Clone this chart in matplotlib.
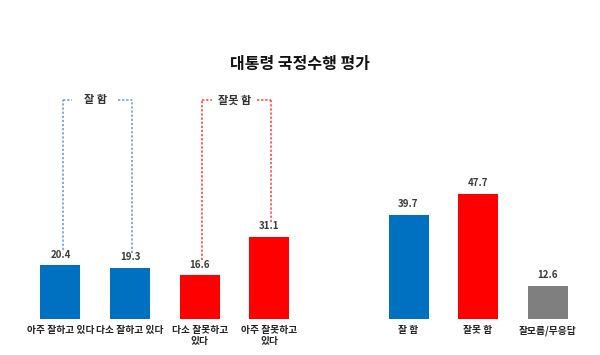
import matplotlib.pyplot as plt
import numpy as np

plt.rcParams['font.family'] = ['Noto Sans CJK KR', 'DejaVu Sans']

left_labels = ['아주 잘하고 있다', '다소 잘하고 있다', '다소 잘못하고\n있다', '아주 잘못하고\n있다']
left_values = [20.4, 19.3, 16.6, 31.1]
left_colors = ['#0070C0', '#0070C0', '#FF0000', '#FF0000']

right_labels = ['잘 함', '잘못 함', '잘모름/무응답']
right_values = [39.7, 47.7, 12.6]
right_colors = ['#0070C0', '#FF0000', '#7F7F7F']

left_pos = np.arange(4)
right_pos = np.arange(5, 8)

fig = plt.figure(figsize=(6, 3.55), dpi=100)
ax = fig.add_axes([0, 0, 1, 1])
ax.set_xlim(-0.869, 7.751)
ax.set_ylim(-13.7, 121.3)
ax.axis('off')

w = 0.575
ax.bar(left_pos, left_values, width=w, color=left_colors)
ax.bar(right_pos, right_values, width=w, color=right_colors)

pos = list(left_pos) + list(right_pos)
vals = left_values + right_values
labs = left_labels + right_labels
for x, v, l in zip(pos, vals, labs):
    ax.text(x, v + 2.2, f'{v:.1f}', ha='center', va='bottom', fontsize=7, fontweight='bold', color='#3a3a3a')
    ax.text(x, -2.4, l, ha='center', va='top', fontsize=7, fontweight='bold', color='#222222', linespacing=1.1)

# brackets
top = 83.3
gap = 0.33
def bracket(i, j, text, color):
    x0, x1 = pos[i] + 0.03, pos[j] + 0.03
    xm = (pos[i] + pos[j]) / 2
    kw = dict(color=color, lw=1.1, linestyle=(0, (1.5, 1.2)))
    ax.plot([x0, x0], [vals[i] + 5.8, top], **kw)
    ax.plot([x1, x1], [vals[j] + 5.8, top], **kw)
    ax.plot([x0, xm - gap], [top, top], **kw)
    ax.plot([xm + gap, x1], [top, top], **kw)
    ax.text(xm, top, text, ha='center', va='center', fontsize=8, fontweight='bold', color='#333333')

bracket(0, 1, '잘 함', '#6A95CC')
bracket(2, 3, '잘못 함', '#FF3B3B')

ax.text(3.44, 97, '대통령 국정수행 평가', ha='center', va='center', fontsize=11.5, fontweight='bold', color='#111111')

fig.savefig('out.png', dpi=100)
